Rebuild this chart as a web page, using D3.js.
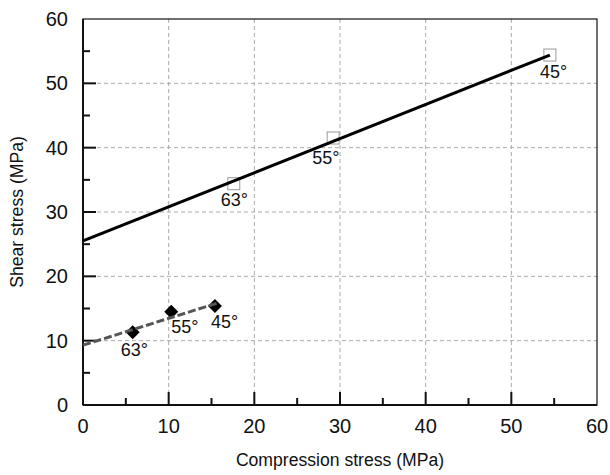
<!DOCTYPE html>
<html>
<head>
<meta charset="utf-8">
<script src="https://cdn.jsdelivr.net/npm/d3@7"></script>
<style>
  body { margin: 0; background: #fff; }
  text { font-family: "Liberation Sans", Arial, sans-serif; fill: #111; }
</style>
</head>
<body>
<div id="chart"></div>
<script>
// data
const squareX = [17.6, 29.2, 54.5];
const squareY = [34.4, 41.5, 54.4];
const squareLabels = ["63°", "55°", "45°"];
const solidLine = [[0, 25.5], [54.5, 54.4]];

const diamondX = [5.8, 10.3, 15.4];
const diamondY = [11.3, 14.5, 15.4];
const diamondLabels = ["63°", "55°", "45°"];
const dashedLine = [[0, 9.3], [15.6, 15.8]];

const xTicks = [0, 10, 20, 30, 40, 50, 60];
const yTicks = [0, 10, 20, 30, 40, 50, 60];
const minorTicks = [5, 15, 25, 35, 45, 55];

// label offsets (px) relative to marker
const squareLabelOff = [[-13, 22], [-21, 26], [-10, 23]];
const diamondLabelOff = [[-12, 24], [0, 21], [-4, 22]];

const width = 610, height = 475;
const margin = { top: 19, right: 13, bottom: 70, left: 83 };
const w = width - margin.left - margin.right;
const h = height - margin.top - margin.bottom;

const svg = d3.select("#chart").append("svg")
  .attr("width", width).attr("height", height);
const g = svg.append("g").attr("transform", `translate(${margin.left},${margin.top})`);

const x = d3.scaleLinear().domain([0, 60]).range([0, w]);
const y = d3.scaleLinear().domain([0, 60]).range([h, 0]);

// grid
g.selectAll(".vgrid").data(xTicks.slice(1, -1)).enter().append("line")
  .attr("x1", d => x(d)).attr("x2", d => x(d)).attr("y1", 0).attr("y2", h)
  .attr("stroke", "#aaa").attr("stroke-width", 1).attr("stroke-dasharray", "4,3");
g.selectAll(".hgrid").data(yTicks.slice(1, -1)).enter().append("line")
  .attr("y1", d => y(d)).attr("y2", d => y(d)).attr("x1", 0).attr("x2", w)
  .attr("stroke", "#aaa").attr("stroke-width", 1).attr("stroke-dasharray", "4,3");

// frame
g.append("rect").attr("width", w).attr("height", h)
  .attr("fill", "none").attr("stroke", "#111").attr("stroke-width", 1.2);
g.append("line").attr("x1", 0).attr("x2", 0).attr("y1", 0).attr("y2", h)
  .attr("stroke", "#111").attr("stroke-width", 2);
g.append("line").attr("x1", 0).attr("x2", w).attr("y1", h).attr("y2", h)
  .attr("stroke", "#111").attr("stroke-width", 2);

// ticks (inward)
g.selectAll(".xt").data(xTicks.slice(1, -1)).enter().append("line")
  .attr("x1", d => x(d)).attr("x2", d => x(d)).attr("y1", h).attr("y2", h - 13)
  .attr("stroke", "#111").attr("stroke-width", 2);
g.selectAll(".xm").data(minorTicks).enter().append("line")
  .attr("x1", d => x(d)).attr("x2", d => x(d)).attr("y1", h).attr("y2", h - 7)
  .attr("stroke", "#111").attr("stroke-width", 2);
g.selectAll(".yt").data(yTicks.slice(1, -1)).enter().append("line")
  .attr("y1", d => y(d)).attr("y2", d => y(d)).attr("x1", 0).attr("x2", 13)
  .attr("stroke", "#111").attr("stroke-width", 2);
g.selectAll(".ym").data(minorTicks).enter().append("line")
  .attr("y1", d => y(d)).attr("y2", d => y(d)).attr("x1", 0).attr("x2", 7)
  .attr("stroke", "#111").attr("stroke-width", 2);

// tick labels
g.selectAll(".xl").data(xTicks).enter().append("text")
  .attr("x", d => x(d)).attr("y", h + 28)
  .attr("text-anchor", "middle").style("font-size", "20px").text(d => d);
g.selectAll(".yl").data(yTicks).enter().append("text")
  .attr("x", -15).attr("y", d => y(d) + 7)
  .attr("text-anchor", "end").style("font-size", "20px").text(d => d);

// axis titles
svg.append("text").attr("x", margin.left + w / 2).attr("y", 466)
  .attr("text-anchor", "middle").style("font-size", "17.6px").text("Compression stress (MPa)");
svg.append("text").attr("transform", `translate(23,${margin.top + h / 2}) rotate(-90)`)
  .attr("text-anchor", "middle").style("font-size", "17.6px").text("Shear stress (MPa)");

const line = d3.line().x(d => x(d[0])).y(d => y(d[1]));

// squares (behind solid line)
g.selectAll(".sq").data(squareX).enter().append("rect")
  .attr("x", (d, i) => x(d) - 6).attr("y", (d, i) => y(squareY[i]) - 6)
  .attr("width", 12).attr("height", 12)
  .attr("fill", "#fff").attr("stroke", "#999").attr("stroke-width", 1);

g.append("path").datum(solidLine).attr("d", line)
  .attr("fill", "none").attr("stroke", "#000").attr("stroke-width", 3);

g.selectAll(".sql").data(squareLabels).enter().append("text")
  .attr("x", (d, i) => x(squareX[i]) + squareLabelOff[i][0])
  .attr("y", (d, i) => y(squareY[i]) + squareLabelOff[i][1])
  .style("font-size", "18px").text(d => d);

// diamonds
g.selectAll(".dm").data(diamondX).enter().append("path")
  .attr("d", "M0,-7L7,0L0,7L-7,0Z")
  .attr("transform", (d, i) => `translate(${x(d)},${y(diamondY[i])})`)
  .attr("fill", "#000");

g.append("path").datum(dashedLine).attr("d", line)
  .attr("fill", "none").attr("stroke", "#555").attr("stroke-width", 3)
  .attr("stroke-dasharray", "8,3");

g.selectAll(".dml").data(diamondLabels).enter().append("text")
  .attr("x", (d, i) => x(diamondX[i]) + diamondLabelOff[i][0])
  .attr("y", (d, i) => y(diamondY[i]) + diamondLabelOff[i][1])
  .style("font-size", "18px").text(d => d);
</script>
</body>
</html>
